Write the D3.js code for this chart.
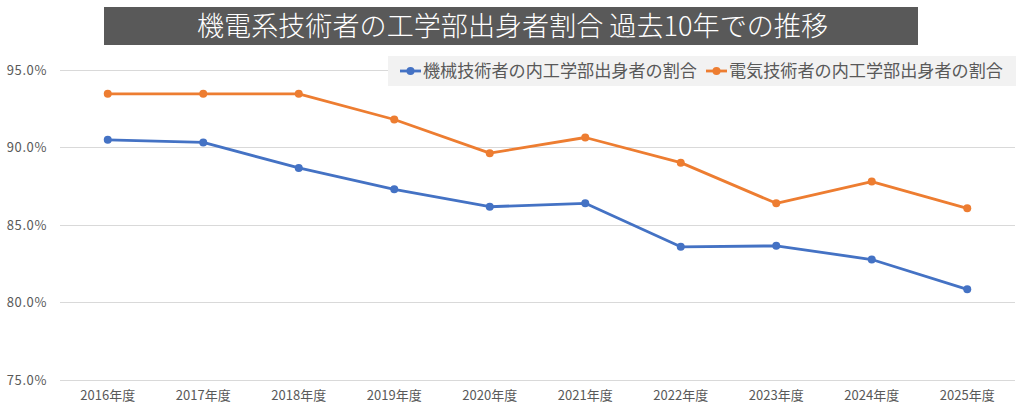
<!DOCTYPE html>
<html><head><meta charset="utf-8">
<script src="https://cdn.jsdelivr.net/npm/d3@7"></script>
<style>body{margin:0;background:#fff}svg{display:block;font-family:"Noto Sans CJK JP","Noto Sans",sans-serif}</style>
</head><body><svg id="c" width="1024" height="408"></svg>
<script>
const categories = ["2016年度","2017年度","2018年度","2019年度","2020年度","2021年度","2022年度","2023年度","2024年度","2025年度"];
const mechValues = [90.47, 90.30, 88.66, 87.28, 86.16, 86.38, 83.58, 83.64, 82.76, 80.84];
const elecValues = [93.43, 93.43, 93.43, 91.78, 89.61, 90.62, 89.00, 86.38, 87.78, 86.06];
const seriesNames = ["機械技術者の内工学部出身者の割合","電気技術者の内工学部出身者の割合"];
const yTicks = [75, 80, 85, 90, 95];
const titleText = "機電系技術者の工学部出身者割合 過去10年での推移";

const svg = d3.select("#c");
const colors = ["#4472C4", "#ED7D31"];
const x = d3.scaleBand().domain(categories).range([60, 1015]);
const y = d3.scaleLinear().domain([75, 95]).range([380, 69.5]);

// gridlines
svg.append("g").selectAll("line").data(yTicks).join("line")
  .attr("x1", 60).attr("x2", 1015)
  .attr("y1", d => Math.round(y(d)) + 0.5).attr("y2", d => Math.round(y(d)) + 0.5)
  .attr("stroke", "#d9d9d9").attr("stroke-width", 1);

// y labels
svg.append("g").selectAll("text").data(yTicks).join("text")
  .attr("x", 47).attr("y", d => y(d) + 5)
  .attr("text-anchor", "end").attr("font-size", 13).attr("fill", "#595959")
  .attr("letter-spacing", 0.6)
  .text(d => d3.format(".1f")(d) + "%");

// x labels
svg.append("g").selectAll("text").data(categories).join("text")
  .attr("x", d => x(d) + x.bandwidth() / 2).attr("y", 400)
  .attr("text-anchor", "middle").attr("font-size", 13).attr("fill", "#595959")
  .text(d => d);

// lines
const series = [mechValues, elecValues];
const line = d3.line().x((d, i) => x(categories[i]) + x.bandwidth() / 2).y(d => y(d));
series.forEach((vals, si) => {
  svg.append("path").datum(vals).attr("d", line)
    .attr("fill", "none").attr("stroke", colors[si]).attr("stroke-width", 2.8)
    .attr("stroke-linejoin", "round");
  svg.append("g").selectAll("circle").data(vals).join("circle")
    .attr("cx", (d, i) => x(categories[i]) + x.bandwidth() / 2).attr("cy", d => y(d))
    .attr("r", 4).attr("fill", colors[si]);
});

// legend
const lg = svg.append("g");
lg.append("rect").attr("x", 388).attr("y", 56).attr("width", 628).attr("height", 30).attr("fill", "#f2f2f2");
const legendX = [400, 706];
seriesNames.forEach((n, i) => {
  const g = lg.append("g").attr("transform", `translate(${legendX[i]},71)`);
  g.append("line").attr("x1", 0).attr("x2", 21).attr("stroke", colors[i]).attr("stroke-width", 2.8);
  g.append("circle").attr("cx", 10.5).attr("r", 4).attr("fill", colors[i]);
  g.append("text").attr("x", 23).attr("y", 6).attr("font-size", 17).attr("fill", "#595959")
    .attr("textLength", 274).attr("lengthAdjust", "spacingAndGlyphs").text(n);
});

// title
svg.append("rect").attr("x", 104).attr("y", 7).attr("width", 814).attr("height", 38).attr("fill", "#595959");
svg.append("text").attr("x", 197).attr("y", 36).attr("font-size", 27).attr("font-weight", 300).attr("fill", "#fff")
  .attr("textLength", 631).attr("lengthAdjust", "spacingAndGlyphs").text(titleText);
</script></body></html>
